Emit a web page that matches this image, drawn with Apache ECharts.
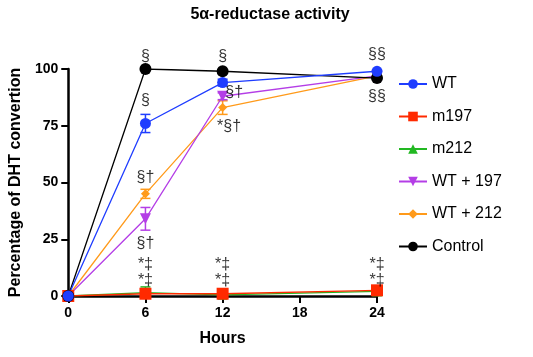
<!DOCTYPE html>
<html>
<head>
<meta charset="utf-8">
<script src="https://cdn.jsdelivr.net/npm/echarts@6/dist/echarts.min.js"></script>
<style>
  html, body { margin: 0; padding: 0; background: #fff; }
  #chart { width: 533px; height: 357px; }
</style>
</head>
<body>
<div id="chart"></div>
<script>
// hours
const hours = [0, 6, 12, 24];
const xTicks = [0, 6, 12, 18, 24];

// mean % DHT conversion
const wt      = [0, 76, 94, 99];
const m197    = [0, 1, 1, 2.5];
const m212    = [0, 1.5, 0.5, 2];
const wt197   = [0, 34, 88, 97];
const wt212   = [0, 45, 83, 97];
const control = [0, 100, 99, 96];

// error (+/-)
const wtErr      = [0, 4, 1.5, 0.5];
const m197Err    = [0, 0.5, 0.5, 0.5];
const m212Err    = [0, 2.5, 0.5, 0.5];
const wt197Err   = [0, 5, 1.5, 2];
const wt212Err   = [0, 2, 3, 1];
const controlErr = [0, 0.5, 0.5, 0.5];

// significance marks: [hour, y, text]
const marks = [
    [6, 105.5, '§'], [12, 105.5, '§'], [24, 106.5, '§§'],
    [6, 86, '§'],
    [12.9, 89.5, '§†'],
    [12.5, 74.5, '*§†'],
    [24, 88, '§§'],
    [6, 52, '§†'],
    [6, 23, '§†'],
    [6, 14, '*‡'], [6, 7, '*‡'],
    [12, 14, '*‡'], [12, 7, '*‡'],
    [24, 14, '*‡'], [24, 7, '*‡']
];

const chart = echarts.init(document.getElementById('chart'));

function pairs(vals) {
    return hours.map((h, i) => [h, vals[i]]);
}

function errBars(name, color, vals, errs) {
    return {
        name: name,
        type: 'custom',
        z: 3,
        data: hours.map((h, i) => [h, vals[i] - errs[i], vals[i] + errs[i]]),
        encode: {x: 0, y: [1, 2]},
        renderItem: function (params, api) {
            const lo = api.coord([api.value(0), api.value(1)]);
            const hi = api.coord([api.value(0), api.value(2)]);
            const w = 5;
            const style = {stroke: color, lineWidth: 1.5};
            return {
                type: 'group',
                children: [
                    {type: 'line', shape: {x1: lo[0], y1: lo[1], x2: hi[0], y2: hi[1]}, style: style},
                    {type: 'line', shape: {x1: lo[0] - w, y1: lo[1], x2: lo[0] + w, y2: lo[1]}, style: style},
                    {type: 'line', shape: {x1: hi[0] - w, y1: hi[1], x2: hi[0] + w, y2: hi[1]}, style: style}
                ]
            };
        }
    };
}

function lineSeries(name, color, symbol, size, vals) {
    return {
        name: name,
        type: 'line',
        data: pairs(vals),
        symbol: symbol,
        symbolSize: size,
        z: 4,
        itemStyle: {color: color},
        lineStyle: {color: color, width: 1.3}
    };
}

const series = [
    lineSeries('WT + 212', '#ff9a1a', 'diamond', 9, wt212),
    lineSeries('WT + 197', '#b43ee6', 'triangle', 11, wt197),
    lineSeries('m212', '#22b822', 'triangle', 10, m212),
    lineSeries('m197', '#ff2a00', 'rect', 12, m197),
    lineSeries('Control', '#000000', 'circle', 12, control),
    lineSeries('WT', '#1f3dff', 'circle', 11, wt),
    errBars('WT + 212', '#ff9a1a', wt212, wt212Err),
    errBars('WT + 197', '#b43ee6', wt197, wt197Err),
    errBars('m212', '#22b822', m212, m212Err),
    errBars('m197', '#ff2a00', m197, m197Err),
    errBars('WT', '#1f3dff', wt, wtErr),
    errBars('Control', '#000000', control, controlErr),
    {
        type: 'scatter',
        symbolSize: 0,
        silent: true,
        clip: false,
        z: 6,
        data: marks,
        label: {
            show: true,
            position: 'inside',
            formatter: p => p.data[2],
            color: '#000',
            fontSize: 16,
            fontFamily: 'Liberation Sans, Arial, sans-serif'
        }
    }
];
// point the WT + 197 triangle down
series[1].symbolRotate = 180;

const option = {
    animation: false,
    title: {
        text: '5α-reductase activity',
        left: 265,
        textAlign: 'center',
        top: 2,
        textStyle: {fontSize: 16, fontWeight: 'bold', color: '#000', fontFamily: 'Liberation Sans, Arial, sans-serif'}
    },
    grid: {left: 67, right: 156, top: 69, bottom: 61},
    legend: {
        orient: 'vertical',
        left: 393,
        top: 71,
        itemGap: 16.5,
        itemWidth: 28,
        itemHeight: 12,
        data: ['WT', 'm197', 'm212', 'WT + 197', 'WT + 212', 'Control'],
        textStyle: {fontSize: 16, color: '#000', fontFamily: 'Liberation Sans, Arial, sans-serif'}
    },
    xAxis: {
        type: 'value',
        min: 0,
        max: 24,
        interval: 6,
        name: 'Hours',
        nameLocation: 'middle',
        nameGap: 35,
        nameTextStyle: {fontSize: 16, fontWeight: 'bold', color: '#000', fontFamily: 'Liberation Sans, Arial, sans-serif'},
        axisLine: {lineStyle: {color: '#000', width: 2.5}},
        axisTick: {show: true, length: 7, inside: false, lineStyle: {width: 2}},
        axisLabel: {
            fontSize: 14, fontWeight: 'bold', color: '#000', margin: 10,
            fontFamily: 'Liberation Sans, Arial, sans-serif',
            formatter: v => xTicks.includes(v) ? String(v) : ''
        },
        splitLine: {show: false}
    },
    yAxis: {
        type: 'value',
        min: 0,
        max: 100,
        interval: 25,
        name: 'Percentage of DHT convertion',
        nameLocation: 'middle',
        nameGap: 42,
        nameTextStyle: {fontSize: 16, fontWeight: 'bold', color: '#000', fontFamily: 'Liberation Sans, Arial, sans-serif'},
        axisLine: {show: true, lineStyle: {color: '#000', width: 2.5}},
        axisTick: {show: true, length: 7, lineStyle: {width: 2}},
        axisLabel: {fontSize: 14, fontWeight: 'bold', color: '#000', margin: 10, fontFamily: 'Liberation Sans, Arial, sans-serif'},
        splitLine: {show: false}
    },
    series: series
};

chart.setOption(option);
window.addEventListener('resize', function () {
    chart.resize();
});
</script>
</body>
</html>
